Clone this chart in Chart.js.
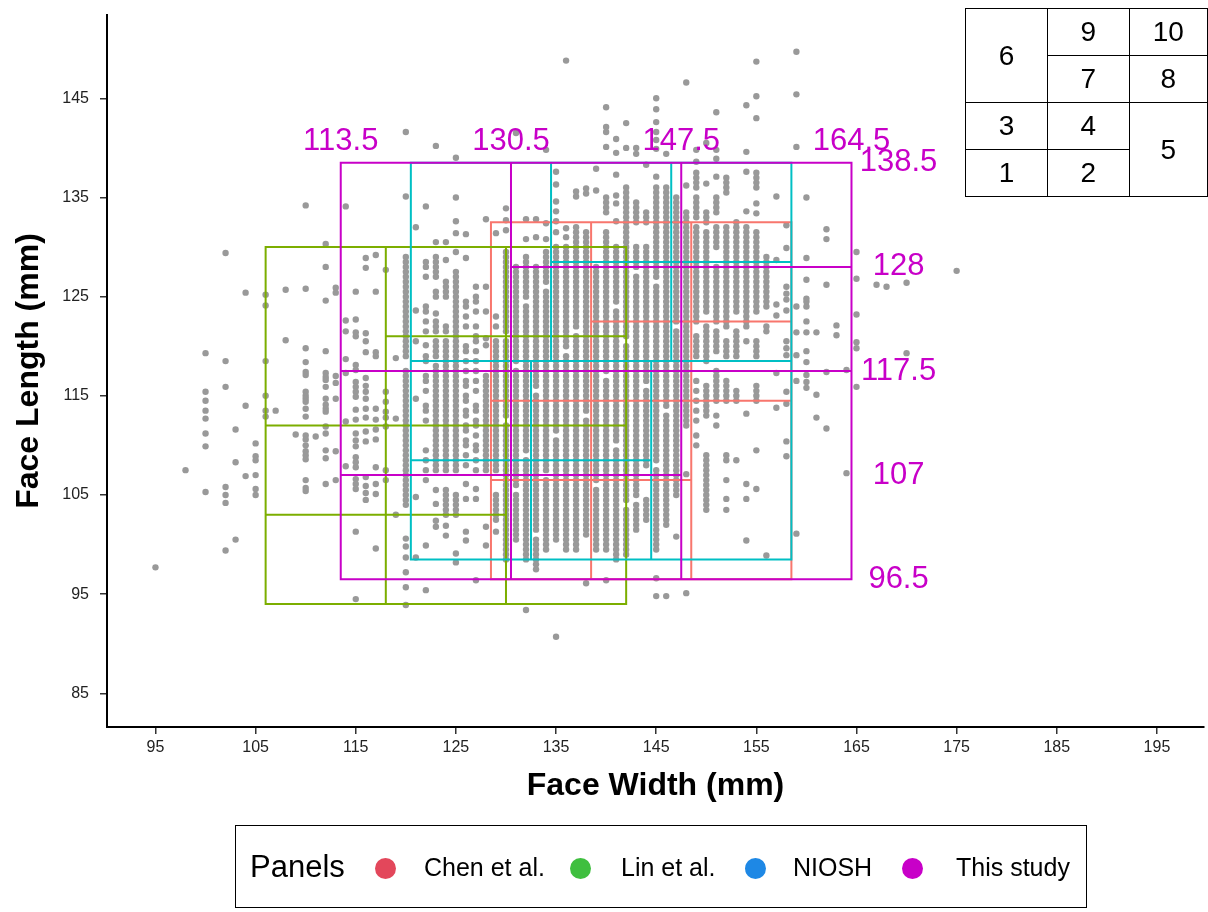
<!DOCTYPE html>
<html>
<head>
<meta charset="utf-8">
<script src="https://cdn.jsdelivr.net/npm/chart.js@4.4.1/dist/chart.umd.min.js"></script>
<style>
  body { margin: 0; background: #fff; font-family: "Liberation Sans", Arial, sans-serif; }
  #wrap { position: relative; width: 1208px; height: 912px; overflow: hidden; background: #fff; }
  #chart { position: absolute; left: 0; top: 0; }
  #inset { position: absolute; left: 965px; top: 8px; border-collapse: collapse; font-size: 28px; color: #000; }
  #inset td { border: 1.5px solid #000; text-align: center; height: 46px; padding: 0; }
  #legend { position: absolute; left: 235px; top: 825px; width: 852px; height: 83px; box-sizing: border-box; border: 1.5px solid #000; }
  #legend .ttl { position: absolute; left: 14px; top: 23px; font-size: 31px; }
  #legend .dot { position: absolute; top: 32px; width: 21px; height: 21px; border-radius: 50%; }
  #legend .lab { position: absolute; top: 27px; font-size: 25px; }
</style>
</head>
<body>
<div id="wrap">
  <canvas id="chart" width="1208" height="912"></canvas>
  <table id="inset">
    <tr><td rowspan="2" style="width:82px">6</td><td style="width:81px">9</td><td style="width:78px">10</td></tr>
    <tr><td>7</td><td>8</td></tr>
    <tr><td>3</td><td>4</td><td rowspan="2">5</td></tr>
    <tr><td>1</td><td>2</td></tr>
  </table>
  <div id="legend"></div>
</div>
<script>
// axis ticks
const xTicks = [95, 105, 115, 125, 135, 145, 155, 165, 175, 185, 195];
const yTicks = [85, 95, 105, 115, 125, 135, 145];

// face width columns (mm) and the face lengths seen in each column (mm)
const faceWidthCols = [95, 98, 100, 102, 103, 104, 105, 106, 107, 108, 109, 110, 111, 112, 113, 114,
    115, 116, 117, 118, 119, 120, 121, 122, 123, 124, 125, 126, 127, 128, 129, 130, 131, 132, 133, 134,
    135, 136, 137, 138, 139, 140, 141, 142, 143, 144, 145, 146, 147, 148, 149, 150, 151, 152, 153, 154,
    155, 156, 157, 158, 159, 160, 161, 162, 163, 164, 165, 167, 168, 170, 175];

const faceLengthCols = [
    /* 95 */ [97.7],
    /* 98 */ [107.5],
    /* 100 */ [119.3, 115.4, 114.5, 113.5, 112.7, 111.2, 109.9, 105.3],
    /* 102 */ [129.4, 118.5, 115.9, 105.8, 105, 104.2, 99.4],
    /* 103 */ [111.6, 108.3, 100.5],
    /* 104 */ [125.4, 114, 106.9],
    /* 105 */ [110.2, 108.9, 108.5, 107, 105.6, 105],
    /* 106 */ [125.2, 124.1, 118.5, 115, 113.5, 112.9],
    /* 107 */ [113.5],
    /* 108 */ [125.7, 120.6],
    /* 109 */ [111.1],
    /* 110 */ [134.2, 125.8, 119.8, 118.4, 117.4, 117.1, 115.4, 115, 114.7, 114.4, 113.7, 112.9, 111, 110.6, 110, 109.4, 109, 108.6, 106.5, 105.7, 105.4],
    /* 111 */ [110.9],
    /* 112 */ [130.3, 128, 124.6, 119.5, 117.3, 116.9, 116.6, 115.9, 114.7, 114.1, 113.7, 113.4, 111.9, 111.2, 109.5, 108.7, 106.1],
    /* 113 */ [125.9, 125.4, 117, 116.3, 114.7, 109.4, 106.5],
    /* 114 */ [134.1, 122.6, 121.5, 118.7, 117.3, 112.4, 107.9],
    /* 115 */ [125.5, 122.7, 121.4, 121, 118.1, 117.6, 116.4, 115.9, 115.4, 114.9, 113.6, 112.6, 111.2, 110.5, 109.9, 108.8, 108.3, 107.8, 106.6, 106.1, 105.6, 101.3, 94.5],
    /* 116 */ [128.9, 127.9, 121.3, 120.5, 119.4, 116.8, 116, 115.4, 114.7, 113.7, 112.8, 111.4, 110.4, 106.8, 105.9, 105.2, 104.5],
    /* 117 */ [129.2, 125.5, 119.4, 119, 113.7, 112.6, 111.6, 110.6, 107.8, 106.1, 105.1, 99.6],
    /* 118 */ [127.7, 115.4, 114.4, 113.4, 112.8, 111.9, 107.5, 106.5],
    /* 119 */ [118.8, 112.7, 103],
    /* 120 */ [93.9, 95.7, 97.2, 98.7, 99.8, 100.6, 104, 104.5, 105, 105.5, 106, 106.5, 107, 107.5, 108, 108.5, 109, 109.5, 110, 110.5, 111, 111.5, 112, 112.5, 113, 113.5, 114, 114.5, 115, 115.5, 116, 116.5, 117, 117.5, 119, 119.5, 120, 120.5, 121, 121.5, 122, 122.5, 123, 123.5, 124, 124.5, 125, 125.5, 126, 126.5, 127, 127.5, 128, 128.5, 129, 135.1, 141.6],
    /* 121 */ [98.7, 104.8, 114.7, 120.5, 123.6, 132],
    /* 122 */ [95.4, 99.9, 106.5, 107.5, 108.5, 109.5, 112.5, 113.5, 114, 115.5, 116.5, 117, 118.5, 119, 120.1, 121.5, 122.5, 123.5, 124, 127, 128, 128.5, 134.1],
    /* 123 */ [101.8, 102.4, 104.1, 105.5, 107.5, 108, 108.5, 109, 109.5, 110, 110.5, 111, 111.5, 112, 112.5, 113, 113.5, 114, 114.5, 115, 115.5, 116, 116.5, 117, 117.5, 118, 119, 119.5, 120, 120.5, 121.5, 122, 122.5, 123.3, 125, 125.5, 127, 127.5, 128, 128.5, 129, 130.5, 140.2],
    /* 124 */ [100.9, 101.9, 103, 103.5, 104, 104.5, 105, 105.5, 107.5, 108, 108.5, 109, 109.5, 110, 110.5, 111, 111.5, 112, 112.5, 113, 113.5, 114, 114.5, 115, 115.5, 116, 116.5, 117, 117.5, 118, 118.5, 119, 119.5, 120, 120.5, 121.5, 122, 125, 125.5, 126, 126.5, 128.7, 130.5],
    /* 125 */ [98.2, 99.1, 103, 103.5, 104, 104.5, 105, 107.5, 108, 108.5, 109, 109.5, 110, 110.5, 111, 111.5, 112, 112.5, 113, 113.5, 114, 114.5, 115, 115.5, 116, 116.5, 117, 117.5, 118, 118.5, 119, 119.5, 120, 120.5, 121, 121.5, 122, 122.5, 123, 123.5, 124, 124.5, 125, 125.5, 126, 126.5, 127, 127.5, 129.5, 131.4, 132.6, 135, 139],
    /* 126 */ [100.4, 101.3, 104.6, 106.1, 108, 109, 110, 110.5, 111.5, 112, 113, 113.5, 114.5, 115, 116, 116.5, 117.5, 118.5, 119.5, 120, 122, 123, 124, 124.5, 128.9, 131.3],
    /* 127 */ [96.4, 104.6, 105.6, 107.5, 108.5, 109.5, 110, 111, 112, 112.5, 113.5, 114, 115.5, 116.5, 117.5, 118.5, 119.5, 120.5, 121, 122, 123.5, 124.5, 125, 126],
    /* 128 */ [99.9, 101.8, 107.5, 108, 108.5, 109, 109.5, 110, 110.5, 111, 111.5, 112, 112.5, 113, 113.5, 114, 114.5, 115, 115.5, 116, 116.5, 117, 120.1, 120.8, 123.5, 126, 132.8],
    /* 129 */ [101.3, 102.5, 103, 103.5, 104, 104.5, 105, 107.5, 108, 108.5, 109, 109.5, 110, 110.5, 111, 111.5, 112, 112.5, 113, 113.5, 114, 114.5, 115, 115.5, 116, 116.5, 117, 117.5, 118, 118.5, 119, 119.5, 120, 120.5, 122, 123, 131.4],
    /* 130 */ [98.5, 99, 99.5, 100, 100.5, 101, 101.5, 102, 102.5, 103, 103.5, 104, 104.5, 105, 105.5, 106, 106.5, 107, 107.5, 108, 108.5, 109, 109.5, 110, 110.5, 111, 111.5, 112, 113, 113.5, 114, 114.5, 115, 115.5, 116, 116.5, 117, 117.5, 118, 118.5, 119, 119.5, 120, 120.5, 121.5, 122, 122.5, 123, 123.5, 124, 124.5, 125, 125.5, 126, 126.5, 127, 127.5, 128, 128.5, 129, 129.5, 131.7, 132.7, 133.9],
    /* 131 */ [100.5, 101, 101.5, 102, 102.5, 103, 103.5, 104, 104.5, 105, 106, 106.5, 107, 107.5, 108, 108.5, 109, 109.5, 110, 110.5, 111, 111.5, 112, 112.5, 113, 113.5, 114, 114.5, 115, 115.5, 116, 116.5, 117, 117.5, 118.5, 119, 119.5, 120, 120.5, 121, 121.5, 122, 122.5, 123, 123.5, 124, 124.5, 125, 125.5, 126, 126.5, 127, 127.5, 128, 141.5],
    /* 132 */ [93.4, 98.5, 99, 99.5, 100, 100.5, 101, 101.5, 102, 102.5, 103, 103.5, 104, 104.5, 105, 105.5, 106, 106.5, 107, 107.5, 108, 108.5, 109.5, 110, 110.5, 111, 111.5, 112, 112.5, 113, 113.5, 114, 114.5, 115, 115.5, 116, 116.5, 117, 117.5, 118, 118.5, 119, 119.5, 120, 120.5, 121, 121.5, 122, 122.5, 123, 123.5, 124, 125, 125.5, 126, 126.5, 127, 127.5, 128, 128.5, 129, 130.8, 132.8],
    /* 133 */ [97.5, 98, 98.5, 99, 99.5, 100, 100.5, 101.5, 102, 102.5, 103, 103.5, 104, 104.5, 105, 105.5, 106, 106.5, 107, 107.5, 108, 108.5, 109, 109.5, 110, 110.5, 111, 111.5, 112, 112.5, 113, 113.5, 114, 114.5, 115, 116, 116.5, 117, 117.5, 118, 118.5, 119, 119.5, 120, 120.5, 121, 121.5, 122, 122.5, 123, 123.5, 124, 124.5, 125, 125.5, 126, 126.5, 127, 127.5, 128, 131, 132.8],
    /* 134 */ [99.5, 100, 100.5, 101, 101.5, 102, 102.5, 103, 103.5, 104, 104.5, 105, 105.5, 106, 106.5, 107.5, 108, 108.5, 109, 109.5, 110, 110.5, 111, 111.5, 112, 112.5, 113, 113.5, 114, 114.5, 115, 115.5, 116, 116.5, 117, 117.5, 118, 118.5, 119, 119.5, 120, 120.5, 121, 121.5, 122, 122.5, 123, 123.5, 124, 124.5, 125, 125.5, 126.5, 127, 127.5, 128, 128.5, 129, 129.5, 130.8, 132.4, 139.8],
    /* 135 */ [90.7, 100.5, 101, 101.5, 102, 102.5, 103, 103.5, 104, 104.5, 105, 105.5, 106, 106.5, 107, 107.5, 108, 108.5, 109, 109.5, 110, 110.5, 111.5, 112, 112.5, 113, 113.5, 114, 114.5, 115, 115.5, 116, 116.5, 117, 117.5, 118, 118.5, 119, 119.5, 120, 120.5, 121, 121.5, 122, 122.5, 123, 123.5, 124, 124.5, 125, 125.5, 126, 126.5, 127, 127.5, 128, 128.5, 129, 129.5, 130, 131.5, 132.6, 133.6, 134.6, 136.3, 137.6],
    /* 136 */ [99.5, 100, 100.5, 101, 101.5, 102, 102.5, 103, 103.5, 104, 104.5, 105, 105.5, 106, 106.5, 107, 107.5, 108, 108.5, 109, 109.5, 110, 110.5, 111, 111.5, 112, 112.5, 113, 113.5, 114, 114.5, 115, 115.5, 116, 116.5, 117, 117.5, 118, 118.5, 119, 120, 120.5, 121, 121.5, 122, 122.5, 123, 123.5, 124, 124.5, 125, 125.5, 126, 126.5, 127, 127.5, 128, 128.5, 129, 129.5, 130, 131, 131.9, 148.8],
    /* 137 */ [99.5, 100, 100.5, 101, 101.5, 102, 102.5, 103, 103.5, 104, 104.5, 105, 105.5, 106, 106.5, 107, 107.5, 108, 108.5, 109, 109.5, 110, 110.5, 111, 111.5, 112, 112.5, 113, 113.5, 114, 114.5, 115, 115.5, 116, 116.5, 117, 117.5, 118, 118.5, 119, 119.5, 120, 120.5, 121, 122, 122.5, 123, 123.5, 124, 124.5, 125, 125.5, 126, 126.5, 127, 127.5, 128, 128.5, 129, 129.5, 130, 130.5, 131, 131.5, 132, 135.1, 135.6],
    /* 138 */ [96.1, 101, 101.5, 102, 102.5, 103, 103.5, 104, 104.5, 105, 105.5, 106, 106.5, 107, 107.5, 108, 108.5, 109, 109.5, 110, 110.5, 111, 111.5, 112, 112.5, 113.5, 114, 114.5, 115, 115.5, 116, 116.5, 117, 117.5, 118, 118.5, 119, 119.5, 120, 120.5, 121, 121.5, 122, 122.5, 123, 123.5, 124, 124.5, 125, 125.5, 126, 126.5, 127, 127.5, 128, 128.5, 129, 129.5, 130, 130.5, 131, 131.5, 135.4, 135.9],
    /* 139 */ [99.5, 100, 100.5, 101, 101.5, 102, 102.5, 103, 103.5, 104, 104.5, 105, 105.5, 106.5, 107, 107.5, 108, 108.5, 109, 109.5, 110, 110.5, 111, 111.5, 112, 112.5, 113, 113.5, 114, 114.5, 115, 115.5, 116, 116.5, 117, 117.5, 118, 118.5, 119, 119.5, 120, 120.5, 121, 121.5, 122, 122.5, 123, 123.5, 124, 124.5, 125, 125.5, 126, 126.5, 127, 127.5, 128, 135.7, 137.9],
    /* 140 */ [96.4, 99.5, 100, 100.5, 101, 101.5, 102, 102.5, 103, 103.5, 104, 104.5, 105, 105.5, 106, 106.5, 107, 107.5, 108, 108.5, 109, 109.5, 110, 110.5, 111, 111.5, 112, 112.5, 113, 113.5, 114, 114.5, 115, 115.5, 116, 116.5, 117.5, 118, 118.5, 119, 119.5, 120, 120.5, 121, 121.5, 122, 122.5, 123, 123.5, 124, 124.5, 125, 125.5, 126, 126.5, 127, 127.5, 128, 128.5, 129, 129.5, 130, 130.5, 131, 131.5, 133.5, 134, 134.5, 135, 140.1, 141.6, 142.1, 144.1],
    /* 141 */ [98.5, 99, 99.5, 100, 100.5, 101, 101.5, 102, 102.5, 103, 103.5, 104, 104.5, 105, 105.5, 106, 106.5, 107, 107.5, 108, 108.5, 109, 109.5, 110.5, 111, 111.5, 112, 112.5, 113, 113.5, 114, 114.5, 115, 115.5, 116, 116.5, 117, 117.5, 118, 118.5, 119, 119.5, 120, 120.5, 121, 121.5, 122, 122.5, 123, 123.5, 124.5, 125, 125.5, 126, 126.5, 127, 127.5, 128, 128.5, 129, 129.5, 130, 132.6, 134.4, 135.2, 137.3, 139.5, 140.9],
    /* 142 */ [99, 99.5, 100, 100.5, 101, 101.5, 102, 102.5, 103, 103.5, 104.5, 105, 105.5, 106, 106.5, 107, 107.5, 108, 108.5, 109, 109.5, 110, 110.5, 111, 111.5, 112, 112.5, 113, 113.5, 114, 114.5, 115, 115.5, 116, 116.5, 117, 117.5, 118, 118.5, 119, 119.5, 120, 121, 121.5, 122, 122.5, 123, 123.5, 124, 124.5, 125, 125.5, 126, 126.5, 127, 127.5, 128, 128.5, 129, 129.5, 130, 130.5, 131, 131.5, 132, 132.5, 133, 133.5, 134, 134.5, 135, 135.5, 136, 140, 142.5],
    /* 143 */ [101.5, 102, 102.5, 103, 103.5, 104, 105, 105.5, 106, 106.5, 107, 107.5, 108, 108.5, 109, 109.5, 110, 110.5, 111, 111.5, 112, 112.5, 113, 113.5, 114, 114.5, 115, 115.5, 116, 116.5, 117, 117.5, 118, 118.5, 119, 119.5, 120, 120.5, 121, 121.5, 122, 122.5, 123, 123.5, 124, 124.5, 125, 125.5, 126, 126.5, 127, 128, 128.5, 129, 129.5, 130, 132.5, 133, 133.5, 134, 134.5, 139.4, 140],
    /* 144 */ [102.5, 103, 103.5, 104, 104.5, 108, 108.5, 109, 109.5, 110, 110.5, 111, 111.5, 112, 112.5, 113, 113.5, 114, 114.5, 115, 115.5, 116.5, 117, 117.5, 118, 118.5, 119, 119.5, 120, 120.5, 121, 121.5, 122, 122.5, 123, 123.5, 124, 124.5, 125, 125.5, 126, 126.5, 127, 127.5, 128, 128.5, 129, 129.5, 130, 132.5, 133, 133.5, 138.3],
    /* 145 */ [94.8, 96.6, 99.5, 100, 100.5, 101, 101.5, 102, 102.5, 103, 103.5, 104, 104.5, 105, 105.5, 106, 106.5, 107, 107.5, 108.5, 109, 109.5, 110, 110.5, 111, 111.5, 112, 112.5, 113, 113.5, 114, 114.5, 115, 115.5, 116, 116.5, 117, 117.5, 118, 118.5, 119, 119.5, 120, 120.5, 121, 121.5, 122, 122.5, 123, 123.5, 124, 124.5, 125, 125.5, 126, 127, 127.5, 128, 128.5, 129, 129.5, 130, 130.5, 131, 131.5, 132, 132.5, 133, 133.5, 134, 134.5, 135, 135.5, 136, 137.1, 139.9, 140.8, 141.6, 142.6, 143.9, 145],
    /* 146 */ [94.8, 102, 102.5, 103, 103.5, 104, 104.5, 105, 105.5, 106, 106.5, 107, 107.5, 108, 108.5, 109, 109.5, 110, 110.5, 111, 111.5, 112, 112.5, 113, 114, 114.5, 115, 115.5, 116, 116.5, 117, 117.5, 118, 118.5, 119, 119.5, 120, 120.5, 121, 121.5, 122, 122.5, 123, 123.5, 124, 124.5, 125, 125.5, 126, 126.5, 127, 127.5, 128, 128.5, 129, 129.5, 130, 130.5, 131, 131.5, 132, 132.5, 133, 133.5, 134, 134.5, 135, 135.5, 136, 139.4],
    /* 147 */ [100.8, 105, 105.5, 106, 106.5, 107, 107.5, 108, 108.5, 109, 109.5, 110, 110.5, 111, 111.5, 112, 112.5, 113, 113.5, 114, 114.5, 115, 115.5, 116, 116.5, 117, 117.5, 118, 118.5, 119, 119.5, 120, 120.5, 121, 121.5, 122.5, 123, 123.5, 124, 124.5, 125, 125.5, 126, 126.5, 127, 127.5, 128, 128.5, 129, 129.5, 130, 130.5, 131, 131.5, 132, 132.5, 133, 133.5, 134, 134.5, 135],
    /* 148 */ [95.1, 107.1, 112, 112.5, 113, 113.5, 114, 114.5, 115, 115.5, 116, 116.5, 117, 117.5, 118, 118.5, 119, 119.5, 120, 120.5, 121, 121.5, 122, 122.5, 123, 123.5, 124, 124.5, 125, 125.5, 126, 126.5, 127, 127.5, 128, 128.5, 129, 129.5, 130, 130.5, 131, 131.5, 132, 132.5, 133, 133.5, 136.2, 146.6],
    /* 149 */ [110, 111, 112.5, 113.5, 114.5, 115.5, 116.5, 119, 119.5, 120, 120.5, 121, 122.5, 123, 123.5, 124, 124.5, 125, 125.5, 126, 126.5, 127, 127.5, 128, 128.5, 129, 129.5, 130, 130.5, 131, 131.5, 132, 133, 133.5, 134, 134.5, 135, 136, 136.5, 137, 137.5, 138.6, 139.8],
    /* 150 */ [103.5, 104, 104.5, 105, 105.5, 106, 106.5, 107, 107.5, 108, 108.5, 109, 113, 113.5, 114, 114.5, 115, 115.5, 116, 118.5, 119, 119.5, 120, 120.5, 121, 121.5, 122, 123.5, 124, 124.5, 125, 125.5, 126, 126.5, 127, 127.5, 128, 128.5, 129, 129.5, 130, 130.5, 131, 131.5, 132.5, 133, 133.5, 136.4, 140.5],
    /* 151 */ [112, 113, 114.5, 115, 115.5, 116, 116.5, 117, 117.5, 119.5, 120, 120.5, 121, 121.5, 122.5, 123, 123.5, 124, 124.5, 125, 125.5, 126, 126.5, 127, 127.5, 128, 130, 130.5, 131, 131.5, 132, 133.5, 134, 134.5, 135, 137.1, 138.9, 139.8, 143.6],
    /* 152 */ [103.5, 104.6, 106.5, 108.5, 109, 114.5, 115, 115.5, 116, 116.5, 119, 119.5, 120, 120.5, 122, 122.5, 123, 123.5, 124, 124.5, 125, 125.5, 126, 126.5, 127, 127.5, 128, 128.5, 129, 129.5, 130, 130.5, 131, 131.5, 132, 135.5, 136, 136.5, 137],
    /* 153 */ [108.5, 114.5, 115, 115.5, 119, 119.5, 120, 120.5, 121, 121.5, 123.5, 124, 124.5, 125, 125.5, 126, 126.5, 127, 127.5, 128, 128.5, 129, 129.5, 130, 130.5, 131, 131.5, 132, 132.5],
    /* 154 */ [100.4, 104.6, 106.1, 113.2, 120.5, 122, 122.5, 123, 123.5, 124, 124.5, 125, 125.5, 126, 126.5, 127, 127.5, 128, 128.5, 129, 129.5, 130, 130.5, 131, 131.5, 132, 133.6, 137.6, 139.6, 144.3],
    /* 155 */ [105.6, 109.5, 114.5, 115, 115.5, 116, 119, 119.5, 120, 120.5, 123.5, 124, 124.5, 125, 125.5, 126, 126.5, 127, 127.5, 128, 128.5, 129, 129.5, 130, 130.5, 131, 131.5, 133.4, 134.4, 136, 136.5, 137, 137.5, 143, 145.2, 148.7],
    /* 156 */ [98.9, 121.5, 122, 124, 124.5, 125, 125.5, 126, 126.5, 127, 127.5, 128, 128.5, 129],
    /* 157 */ [113.8, 117.3, 123.1, 124.2, 128.7, 135.1],
    /* 158 */ [108.9, 110.4, 114.2, 115.4, 119.1, 119.8, 120.5, 123.6, 124.7, 125.3, 126, 129.9, 132.2],
    /* 159 */ [101.1, 116.5, 119.1, 121.4, 124, 140.1, 145.4, 149.7],
    /* 160 */ [115.8, 116.4, 117.1, 118.4, 119.5, 121.4, 122.5, 124, 124.5, 124.8, 126.7, 128.9, 135],
    /* 161 */ [112.8, 115.1, 121.4],
    /* 162 */ [111.7, 117.4, 126.2, 130.8, 131.8],
    /* 163 */ [121.1, 122.1],
    /* 164 */ [107.2, 117.6],
    /* 165 */ [115.9, 119.8, 120.4, 123.2, 126.8, 129.5],
    /* 167 */ [126.2],
    /* 168 */ [126],
    /* 170 */ [119.3, 126.4],
    /* 175 */ [127.6]
];

// panel outlines as [x1, y1, x2, y2] in mm
const chenSegments = [
    [128.5, 96.5, 128.5, 132.5], [138.5, 96.5, 138.5, 132.5], [148.5, 96.5, 148.5, 132.5], [158.5, 96.5, 158.5, 132.5],
    [128.5, 132.5, 158.5, 132.5], [138.5, 122.5, 158.5, 122.5], [128.5, 114.5, 158.5, 114.5],
    [128.5, 106.5, 148.5, 106.5], [128.5, 96.5, 158.5, 96.5]
];
const linSegments = [
    [106, 94, 106, 130], [118, 94, 118, 130], [130, 94, 130, 130], [142, 94, 142, 130],
    [106, 130, 142, 130], [118, 121, 142, 121], [106, 112, 142, 112], [106, 103, 130, 103], [106, 94, 142, 94]
];
const nioshSegments = [
    [120.5, 98.5, 120.5, 138.5], [158.5, 98.5, 158.5, 138.5], [134.5, 118.5, 134.5, 138.5], [146.5, 118.5, 146.5, 138.5],
    [132.5, 98.5, 132.5, 118.5], [144.5, 98.5, 144.5, 118.5],
    [120.5, 138.5, 158.5, 138.5], [134.5, 128.5, 158.5, 128.5], [120.5, 118.5, 158.5, 118.5],
    [120.5, 108.5, 144.5, 108.5], [120.5, 98.5, 158.5, 98.5]
];
const studySegments = [
    [113.5, 96.5, 113.5, 138.5], [130.5, 96.5, 130.5, 138.5], [147.5, 96.5, 147.5, 138.5], [164.5, 96.5, 164.5, 138.5],
    [113.5, 138.5, 164.5, 138.5], [130.5, 128, 164.5, 128], [113.5, 117.5, 164.5, 117.5],
    [113.5, 107, 147.5, 107], [113.5, 96.5, 164.5, 96.5]
];

// cut points of this study, written next to the grid
const studyWidthCuts = [113.5, 130.5, 147.5, 164.5];
const studyLengthCuts = [138.5, 128, 117.5, 107, 96.5];

const legendNames = ['Chen et al.', 'Lin et al.', 'NIOSH', 'This study'];
const legendColors = ['#e3475b', '#3fbf3f', '#1e88e5', '#c800c8'];

const POINT_COLOR = '#999999';
const CHEN_COLOR = '#f8766d';
const LIN_COLOR = '#7cae00';
const NIOSH_COLOR = '#00bfc4';
const STUDY_COLOR = '#c800c8';
const CUT_LABEL_Y = 140.6;   // where the width cuts are written
const CUT_LABEL_X = 169.2;   // where the length cuts are written

// build point list from the columns
const facePoints = [];
faceWidthCols.forEach((w, i) => {
    faceLengthCols[i].forEach(l => facePoints.push({ x: w, y: l }));
});

// segments -> one polyline with gaps
function toPath(segs) {
    const pts = [];
    segs.forEach(s => {
        pts.push({ x: s[0], y: s[1] }, { x: s[2], y: s[3] }, { x: null, y: null });
    });
    return pts;
}

function outline(label, segs, color, order) {
    return {
        label: label,
        data: toPath(segs),
        showLine: true,
        spanGaps: false,
        borderColor: color,
        borderWidth: 2,
        borderCapStyle: 'square',
        pointRadius: 0,
        order: order
    };
}

const cutLabels = {
    id: 'cutLabels',
    afterDatasetsDraw(chart) {
        const { ctx, scales: { x, y } } = chart;
        ctx.save();
        ctx.font = '31px "Liberation Sans", Arial, sans-serif';
        ctx.fillStyle = STUDY_COLOR;
        ctx.textAlign = 'center';
        ctx.textBaseline = 'middle';
        studyWidthCuts.forEach(v => {
            ctx.fillText(String(v), x.getPixelForValue(v), y.getPixelForValue(CUT_LABEL_Y));
        });
        studyLengthCuts.forEach(v => {
            ctx.fillText(String(v), x.getPixelForValue(CUT_LABEL_X), y.getPixelForValue(v));
        });
        ctx.restore();
    }
};

Chart.defaults.font.family = '"Liberation Sans", Arial, sans-serif';

new Chart(document.getElementById('chart').getContext('2d'), {
    type: 'scatter',
    data: {
        datasets: [
            {
                label: 'Faces',
                data: facePoints,
                pointRadius: 3.2,
                pointBackgroundColor: POINT_COLOR,
                pointBorderWidth: 0,
                order: 5
            },
            outline('Chen et al.', chenSegments, CHEN_COLOR, 4),
            outline('Lin et al.', linSegments, LIN_COLOR, 3),
            outline('NIOSH', nioshSegments, NIOSH_COLOR, 2),
            outline('This study', studySegments, STUDY_COLOR, 1)
        ]
    },
    options: {
        responsive: false,
        animation: false,
        events: [],
        layout: { padding: { top: 15, bottom: 107, left: 0, right: 0 } },
        plugins: { legend: { display: false }, tooltip: { enabled: false } },
        scales: {
            x: {
                type: 'linear',
                min: 90.16,
                max: 199.7,
                afterBuildTicks: s => { s.ticks = xTicks.map(v => ({ value: v })); },
                afterFit: s => { s.height = 78; s.paddingLeft = 0; s.paddingRight = 0; },
                ticks: { font: { size: 16 }, color: '#222', padding: 4, autoSkip: false, maxRotation: 0 },
                grid: { drawOnChartArea: false, drawTicks: true, tickLength: 7, color: '#333', lineWidth: 1.5 },
                border: { display: true, color: '#000', width: 2 },
                title: { display: true, text: 'Face Width (mm)', color: '#000', font: { size: 32, weight: 'bold' }, padding: 0 }
            },
            y: {
                type: 'linear',
                min: 81.6,
                max: 153.4,
                afterBuildTicks: s => { s.ticks = yTicks.map(v => ({ value: v })); },
                afterFit: s => { s.width = 107; s.paddingTop = 0; s.paddingBottom = 0; },
                ticks: { font: { size: 16 }, color: '#222', padding: 11, autoSkip: false },
                grid: { drawOnChartArea: false, drawTicks: true, tickLength: 7, color: '#333', lineWidth: 1.5 },
                border: { display: true, color: '#000', width: 2 },
                title: { display: true, text: 'Face Length (mm)', color: '#000', font: { size: 32, weight: 'bold' }, padding: { top: 10, bottom: 0 } }
            }
        }
    },
    plugins: [cutLabels]
});

// legend box below the plot
const legendBox = document.getElementById('legend');
legendBox.innerHTML = '<span class="ttl">Panels</span>';
const dotLeft = [139, 334, 509, 666];
const textLeft = [188, 385, 557, 720];
legendNames.forEach((name, i) => {
    legendBox.innerHTML += `<span class="dot" style="left:${dotLeft[i]}px;background:${legendColors[i]}"></span>` +
        `<span class="lab" style="left:${textLeft[i]}px">${name}</span>`;
});
</script>
</body>
</html>
